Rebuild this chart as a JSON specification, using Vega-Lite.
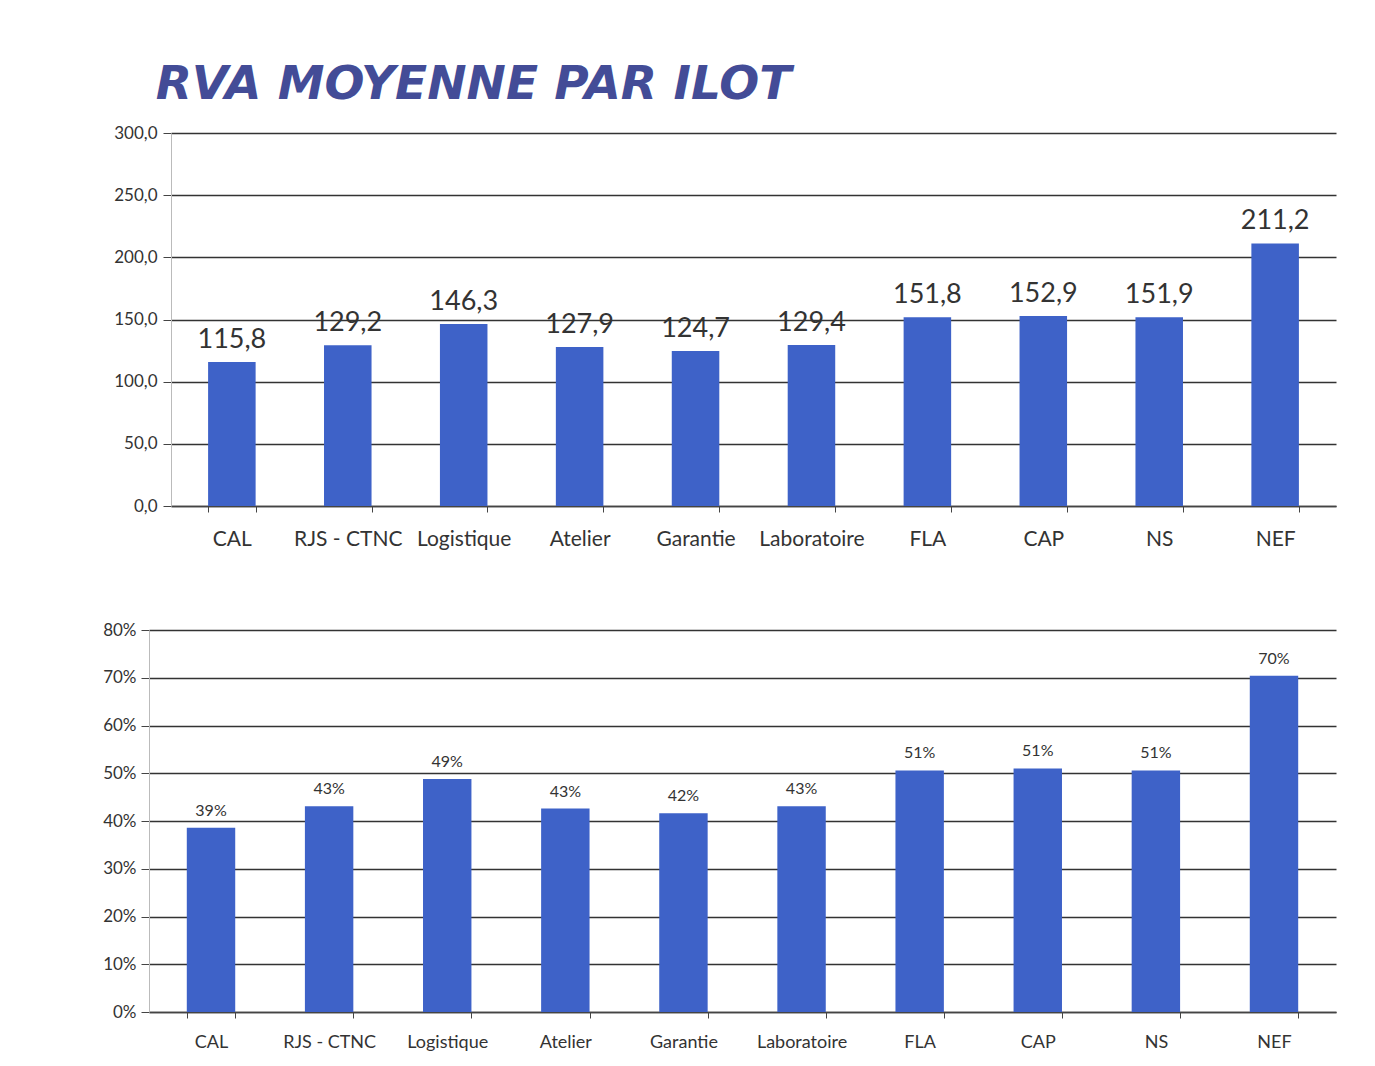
{
  "$schema": "https://vega.github.io/schema/vega-lite/v6.json",
  "background": "white",
  "padding": {"left": 102, "top": 61, "right": 20, "bottom": 10},
  "spacing": 72,
  "config": {
    "locale": {"number": {"decimal": ",", "thousands": " ", "grouping": [3], "currency": ["", " €"]}},
    "view": {"stroke": null},
    "font": "Lato",
    "axis": {"labelColor": "#333333", "labelFont": "Lato", "domainColor": "#444444", "gridColor": "#333333", "tickColor": "#444444"}
  },
  "title": {"text": "RVA MOYENNE PAR ILOT", "anchor": "start", "dx": 53, "font": "DejaVu Sans", "fontSize": 47, "fontStyle": "italic", "fontWeight": "bold", "color": "#434c97", "offset": 15},
  "datasets": {
    "rva": [
      {"ilot": "CAL", "rva": 115.8},
      {"ilot": "RJS - CTNC", "rva": 129.2},
      {"ilot": "Logistique", "rva": 146.3},
      {"ilot": "Atelier", "rva": 127.9},
      {"ilot": "Garantie", "rva": 124.7},
      {"ilot": "Laboratoire", "rva": 129.4},
      {"ilot": "FLA", "rva": 151.8},
      {"ilot": "CAP", "rva": 152.9},
      {"ilot": "NS", "rva": 151.9},
      {"ilot": "NEF", "rva": 211.2}
    ],
    "pct": [
      {"ilot": "CAL", "pct": 0.386},
      {"ilot": "RJS - CTNC", "pct": 0.431},
      {"ilot": "Logistique", "pct": 0.488},
      {"ilot": "Atelier", "pct": 0.426},
      {"ilot": "Garantie", "pct": 0.416},
      {"ilot": "Laboratoire", "pct": 0.431},
      {"ilot": "FLA", "pct": 0.506},
      {"ilot": "CAP", "pct": 0.51},
      {"ilot": "NS", "pct": 0.506},
      {"ilot": "NEF", "pct": 0.704}
    ]
  },
  "vconcat": [
    {
      "width": 1187,
      "height": 373,
      "data": {"name": "rva"},
      "encoding": {
        "x": {"field": "ilot", "type": "nominal", "sort": null, "title": null,
              "scale": {"paddingInner": 0.59, "paddingOuter": 0.32, "range": [22, 1187]},
              "axis": {"labelAngle": 0, "labelFontSize": 21, "labelPadding": 16, "tickBand": "extent", "tickSize": 6, "domainWidth": 1.5}},
        "y": {"field": "rva", "type": "quantitative", "title": null,
              "scale": {"domain": [0, 300]},
              "axis": {"values": [0, 50, 100, 150, 200, 250, 300], "format": ".1f", "labelFontSize": 17, "tickSize": 8, "labelPadding": 6, "gridWidth": 1.4, "domainColor": "#bbbbbb", "offset": -22}}
      },
      "layer": [
        {"mark": {"type": "bar", "color": "#3e62c8"}},
        {"mark": {"type": "text", "dy": -22, "fontSize": 27, "color": "#333333"},
         "encoding": {"text": {"field": "rva", "type": "quantitative", "format": ".1f"}}}
      ]
    },
    {
      "width": 1187,
      "height": 382,
      "data": {"name": "pct"},
      "encoding": {
        "x": {"field": "ilot", "type": "nominal", "sort": null, "title": null,
              "scale": {"paddingInner": 0.59, "paddingOuter": 0.32},
              "axis": {"labelAngle": 0, "labelFontSize": 18, "labelPadding": 15, "tickBand": "extent", "tickSize": 6, "domainWidth": 1.5}},
        "y": {"field": "pct", "type": "quantitative", "title": null,
              "scale": {"domain": [0, 0.8]},
              "axis": {"values": [0, 0.1, 0.2, 0.3, 0.4, 0.5, 0.6, 0.7, 0.8], "format": ".0%", "labelFontSize": 17, "tickSize": 8, "labelPadding": 5, "gridWidth": 1.4, "domainColor": "#bbbbbb"}}
      },
      "layer": [
        {"mark": {"type": "bar", "color": "#3e62c8"}},
        {"mark": {"type": "text", "dy": -17, "fontSize": 16, "color": "#333333"},
         "encoding": {"text": {"field": "pct", "type": "quantitative", "format": ".0%"}}}
      ]
    }
  ]
}
